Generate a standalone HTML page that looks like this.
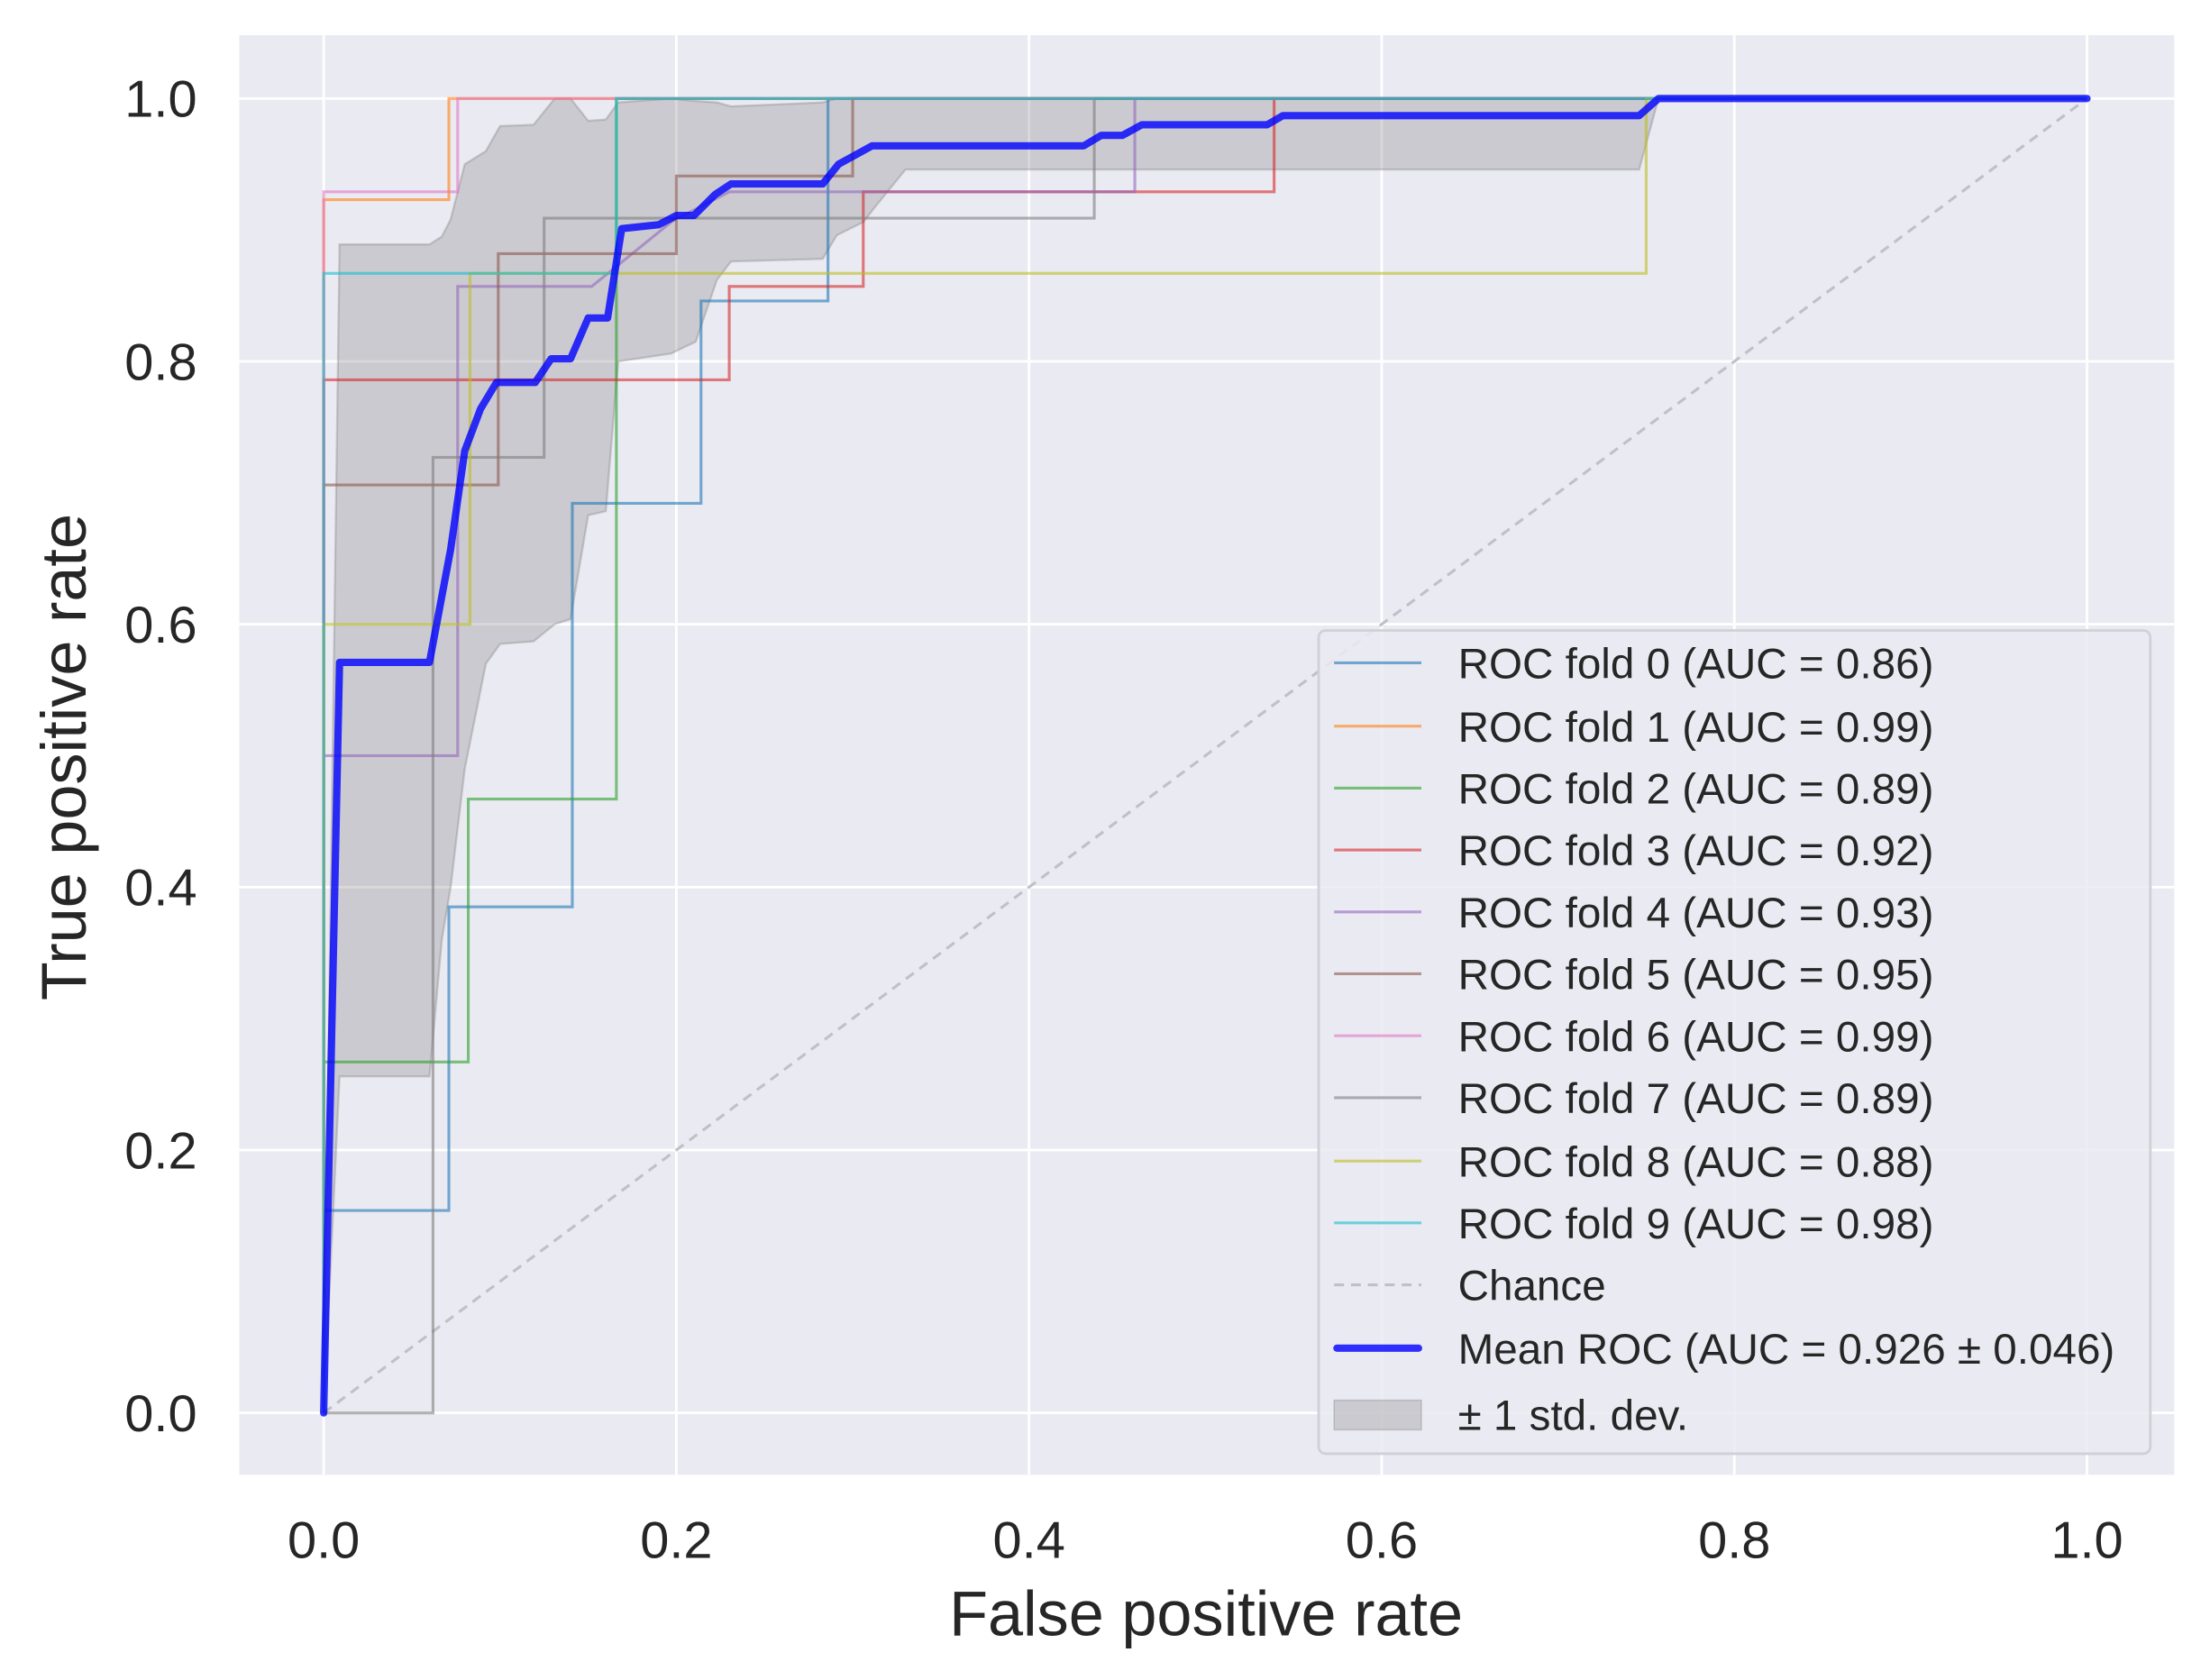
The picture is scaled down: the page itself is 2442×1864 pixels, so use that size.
<!DOCTYPE html>
<html><head><meta charset="utf-8"><style>
html,body{margin:0;padding:0;background:#fff;}
svg{display:block;font-family:"Liberation Sans",sans-serif;}
</style></head><body>
<svg id="chart" width="2442" height="1864" viewBox="0 0 1564 1193.8" xmlns="http://www.w3.org/2000/svg">
<rect x="170" y="25" width="1375" height="1023" fill="#EAEAF2"/>
<g id="grid"></g>
<g id="ticks"></g>
<g id="marks"></g>
<text x="857" y="1162" font-size="45" text-anchor="middle" fill="#262626">False positive rate</text>
<text x="0" y="0" font-size="45" text-anchor="middle" fill="#262626" transform="translate(61,538) rotate(-90)">True positive rate</text>
<g id="legend"></g>
</svg>
<script>
const xTicks=[0,0.2,0.4,0.6,0.8,1.0];
const yTicks=[0,0.2,0.4,0.6,0.8,1.0];
const foldNames=["ROC fold 0 (AUC = 0.86)","ROC fold 1 (AUC = 0.99)","ROC fold 2 (AUC = 0.89)","ROC fold 3 (AUC = 0.92)","ROC fold 4 (AUC = 0.93)","ROC fold 5 (AUC = 0.95)","ROC fold 6 (AUC = 0.99)","ROC fold 7 (AUC = 0.89)","ROC fold 8 (AUC = 0.88)","ROC fold 9 (AUC = 0.98)"];
const foldColors=["#1f77b4","#ff7f0e","#2ca02c","#d62728","#9467bd","#8c564b","#e377c2","#7f7f7f","#bcbd22","#17becf"];
const fold0=[[0,0],[0,0.154],[0.071,0.154],[0.071,0.385],[0.141,0.385],[0.141,0.692],[0.214,0.692],[0.214,0.846],[0.286,0.846],[0.286,1],[1,1]];
const fold1=[[0,0],[0,0.923],[0.071,0.923],[0.071,1],[1,1]];
const fold2=[[0,0],[0,0.267],[0.082,0.267],[0.082,0.467],[0.166,0.467],[0.166,1],[1,1]];
const fold3=[[0,0],[0,0.786],[0.23,0.786],[0.23,0.857],[0.306,0.857],[0.306,0.929],[0.539,0.929],[0.539,1],[1,1]];
const fold4=[[0,0],[0,0.5],[0.076,0.5],[0.076,0.857],[0.152,0.857],[0.198,0.907],[0.23,0.929],[0.46,0.929],[0.46,1],[1,1]];
const fold5=[[0,0],[0,0.706],[0.099,0.706],[0.099,0.882],[0.2,0.882],[0.2,0.941],[0.3,0.941],[0.3,1],[1,1]];
const fold6=[[0,0],[0,0.929],[0.076,0.929],[0.076,1],[1,1]];
const fold7=[[0,0],[0.062,0],[0.062,0.727],[0.125,0.727],[0.125,0.909],[0.437,0.909],[0.437,1],[1,1]];
const fold8=[[0,0],[0,0.6],[0.083,0.6],[0.083,0.867],[0.75,0.867],[0.75,1],[1,1]];
const fold9=[[0,0],[0,0.867],[0.166,0.867],[0.166,1],[1,1]];
const meanFpr=[0,0.009,0.06,0.072,0.08,0.089,0.098,0.12,0.129,0.14,0.15,0.161,0.169,0.19,0.2,0.21,0.222,0.231,0.283,0.292,0.311,0.431,0.441,0.453,0.464,0.535,0.544,0.746,0.757,1];
const meanTpr=[0,0.571,0.571,0.657,0.732,0.764,0.784,0.784,0.802,0.802,0.833,0.833,0.901,0.904,0.911,0.911,0.927,0.935,0.935,0.95,0.964,0.964,0.972,0.972,0.98,0.98,0.987,0.987,1,1];
const bandFpr=[0,0.009,0.06,0.067,0.072,0.08,0.092,0.1,0.119,0.131,0.14,0.15,0.16,0.167,0.197,0.211,0.223,0.231,0.283,0.291,0.306,0.313,0.33,0.746,0.757,1];
const bandUpper=[0,0.889,0.889,0.895,0.908,0.95,0.96,0.979,0.98,1,1,0.983,0.984,0.997,1,0.998,0.997,0.994,0.997,1,1,1,1,1,1,1];
const bandLower=[0,0.256,0.256,0.36,0.4,0.49,0.57,0.585,0.587,0.6,0.604,0.683,0.686,0.8,0.806,0.815,0.862,0.876,0.878,0.896,0.906,0.918,0.946,0.946,1,1];

const NS="http://www.w3.org/2000/svg";
const X=v=>230+v*1253, Y=v=>1004-v*934;
function mk(tag,attrs,parent){const e=document.createElementNS(NS,tag);for(const k in attrs)e.setAttribute(k,attrs[k]);parent.appendChild(e);return e;}
const grid=document.getElementById('grid'),ticks=document.getElementById('ticks'),marks=document.getElementById('marks'),legend=document.getElementById('legend');
xTicks.forEach(t=>{
  const l=mk('line',{x1:X(t),x2:X(t),y1:25,y2:1048,stroke:'#fff','stroke-width':1.8},grid);
  
  
  const tx=mk('text',{x:X(t),y:1107,'font-size':37,'text-anchor':'middle',fill:'#262626'},ticks);
  tx.textContent=t.toFixed(1);
  
  
});
yTicks.forEach(t=>{
  const l=mk('line',{x1:170,x2:1545,y1:Y(t),y2:Y(t),stroke:'#fff','stroke-width':1.8},grid);
  
  
  const tx=mk('text',{x:140,y:Y(t)+13,'font-size':37,'text-anchor':'end',fill:'#262626'},ticks);
  tx.textContent=t.toFixed(1);
  
  
});
let bp=bandFpr.map((f,i)=>X(f)+','+Y(bandUpper[i]));
for(let i=bandFpr.length-1;i>=0;i--)bp.push(X(bandFpr[i])+','+Y(bandLower[i]));
const band=mk('polygon',{points:bp.join(' '),fill:'#808080','fill-opacity':0.3,stroke:'#808080','stroke-opacity':0.35,'stroke-width':1.5},marks);


const ch=mk('line',{x1:X(0),y1:Y(0),x2:X(1),y2:Y(1),stroke:'#c0c0c8','stroke-width':2,'stroke-dasharray':'7,5'},marks);


const folds=[fold0,fold1,fold2,fold3,fold4,fold5,fold6,fold7,fold8,fold9];
folds.forEach((f,i)=>{
  const p=mk('polyline',{points:f.map(q=>X(q[0])+','+Y(q[1])).join(' '),fill:'none',stroke:foldColors[i],'stroke-opacity':0.6,'stroke-width':2},marks);
  
  
});
const mean=mk('polyline',{points:meanFpr.map((f,i)=>X(f)+','+Y(meanTpr[i])).join(' '),fill:'none',stroke:'#0000ff','stroke-opacity':0.8,'stroke-width':5.2,'stroke-linejoin':'round','stroke-linecap':'round'},marks);


const lb=mk('rect',{x:937,y:448,width:591,height:585,rx:5,fill:'#EAEAF2','fill-opacity':0.85,stroke:'#d0d0d6','stroke-width':1.8},legend);


const rowsY=[471,516,560,604,648,692,736,780,825,869,913,958,1005];
const FS=30.5, DY=11;
foldNames.forEach((n,i)=>{
  const g=mk('g',{},legend);
  
  
  mk('line',{x1:948,x2:1010,y1:rowsY[i],y2:rowsY[i],stroke:foldColors[i],'stroke-opacity':0.6,'stroke-width':2},g);
  const t=mk('text',{x:1036,y:rowsY[i]+DY,'font-size':FS,fill:'#262626'},g);t.textContent=n;
});
let g=mk('g',{},legend);


mk('line',{x1:948,x2:1010,y1:913,y2:913,stroke:'#c0c0c8','stroke-width':2,'stroke-dasharray':'7,5'},g);
mk('text',{x:1036,y:913+DY,'font-size':FS,fill:'#262626'},g).textContent='Chance';
g=mk('g',{},legend);


mk('line',{x1:950,x2:1008,y1:958,y2:958,stroke:'#0000ff','stroke-opacity':0.8,'stroke-width':5.2,'stroke-linecap':'round'},g);
mk('text',{x:1036,y:958+DY,'font-size':FS,fill:'#262626'},g).textContent='Mean ROC (AUC = 0.926 \u00b1 0.046)';
g=mk('g',{},legend);


mk('rect',{x:948,y:995,width:62,height:21,fill:'#808080','fill-opacity':0.3,stroke:'#808080','stroke-opacity':0.35},g);
mk('text',{x:1036,y:1005+DY,'font-size':FS,fill:'#262626'},g).textContent='\u00b1 1 std. dev.';
</script>
</body></html>
